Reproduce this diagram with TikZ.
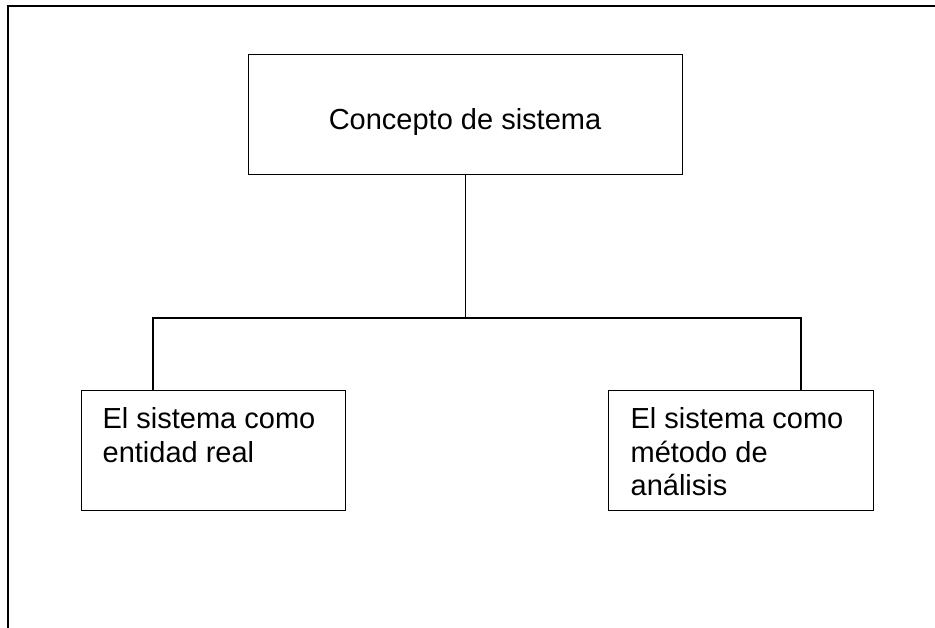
\documentclass[tikz,border=0pt]{standalone}
\usepackage{fontspec}
\setmainfont{Liberation Sans}
\usepackage{tikz}
\usetikzlibrary{positioning}

\begin{document}
\begin{tikzpicture}[x=1pt,y=-1pt,line width=1.3pt,
	caja/.style={draw,rectangle,inner sep=0,anchor=north west},
	texto/.style={inner sep=0,anchor=north west,align=left,font=\fontsize{29}{33.5}\selectfont}]
\useasboundingbox (0,0) rectangle (935,628);
% marco
\draw[line width=2pt] (8,628) -- (8,6) -- (935,6);

% cajas
\node [caja,minimum width=434,minimum height=120] (concepto) at (248,54) {};
\node [caja,minimum width=264,minimum height=120] (real) at (81,390) {};
\node [caja,minimum width=265,minimum height=120] (metodo) at (608,390) {};

\node [inner sep=0,anchor=base,font=\fontsize{29}{33.5}\selectfont] (tconcepto) at (465,130) {Concepto de sistema};
\node [texto] (treal) at ([shift={(21,17)}]real.north west) {El sistema como\\entidad real};
\node [texto] (tmetodo) at ([shift={(22,17)}]metodo.north west) {El sistema como\\método de\\análisis};

% conectores
\coordinate (lft) at (153,318);
\coordinate (rgt) at (801,318);
\draw (concepto.south) -- (concepto.south |- lft);
\draw (real.north -| lft) -- (lft) -- (rgt) -- (metodo.north -| rgt);
\draw[line width=2.2pt] (225,318) -- (273,318);
\end{tikzpicture}
\end{document}
